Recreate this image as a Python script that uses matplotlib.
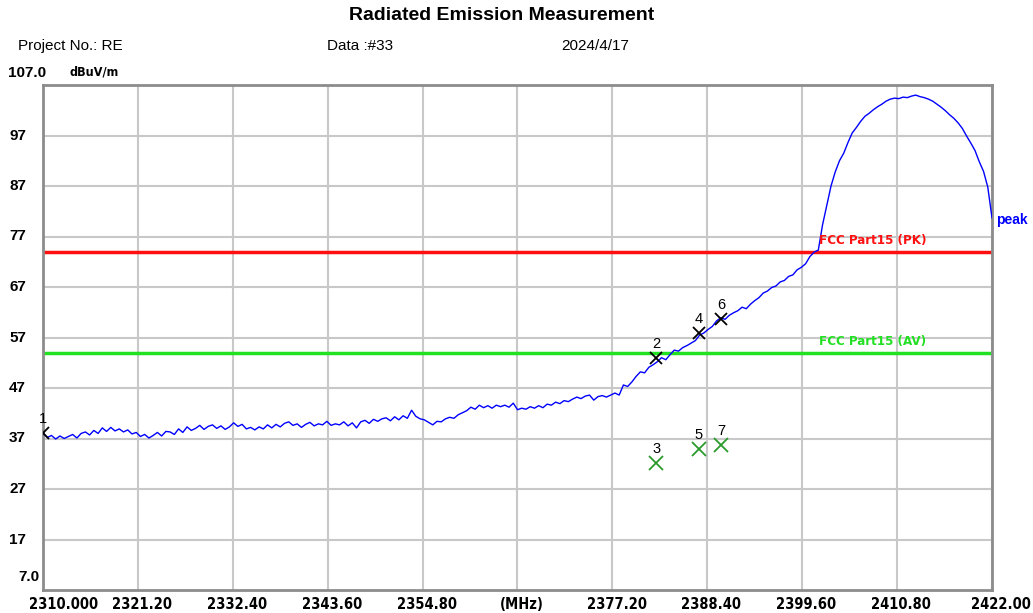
import matplotlib.pyplot as plt
import numpy as np

# trace (0.5 MHz steps)
freq_start, freq_stop, freq_step = 2310.0, 2422.0, 0.5
level = [
    38.1, 37.2, 37.6, 36.9, 37.5, 37.0, 37.4, 37.8, 37.1, 38.0,
    38.3, 37.7, 38.6, 38.0, 39.1, 38.4, 39.2, 38.5, 38.9, 38.3,
    38.7, 37.9, 38.2, 37.4, 37.8, 37.1, 37.6, 38.2, 37.5, 38.4,
    38.3, 37.8, 38.9, 38.2, 39.3, 38.6, 39.0, 39.6, 38.8, 39.4,
    39.7, 39.0, 39.5, 38.8, 39.3, 40.1, 39.4, 39.8, 38.9, 39.2,
    38.7, 39.3, 38.9, 39.7, 39.1, 39.8, 39.3, 40.0, 40.3, 39.6,
    39.9, 39.2, 39.8, 40.2, 39.5, 39.9, 39.7, 40.4, 39.6, 39.9,
    39.7, 40.3, 39.5, 40.1, 39.1, 40.3, 40.6, 40.0, 40.8, 40.4,
    40.9, 41.1, 40.5, 41.3, 40.7, 41.5, 41.0, 42.6, 41.4, 40.9,
    40.7, 40.2, 39.7, 40.4, 40.3, 40.9, 41.2, 41.0, 41.7, 42.1,
    42.5, 43.2, 42.8, 43.6, 43.1, 43.5, 43.0, 43.6, 43.3, 43.6,
    43.2, 44.0, 42.7, 43.0, 42.8, 43.3, 43.0, 43.5, 43.1, 43.8,
    43.6, 44.2, 43.9, 44.5, 44.3, 44.8, 45.2, 44.9, 45.4, 45.6,
    44.6, 45.3, 45.5, 45.2, 45.6, 46.0, 45.6, 47.6, 47.3, 48.2,
    49.3, 50.2, 50.0, 51.1, 51.6, 52.2, 53.0, 52.6, 53.6, 54.5,
    54.3, 55.0, 55.4, 55.9, 56.4, 57.5, 57.9, 58.6, 59.2, 60.3,
    60.9, 60.6, 61.4, 61.9, 62.3, 63.0, 62.7, 63.6, 64.3, 64.9,
    65.8, 66.2, 66.9, 67.2, 68.0, 68.3, 69.1, 69.4, 70.4, 70.9,
    71.6, 73.0, 73.9, 74.3, 79.3, 83.2, 87.0, 89.8, 92.0, 93.5,
    95.6, 97.5, 98.6, 99.8, 100.8, 101.4, 102.1, 102.7, 103.2, 103.8,
    104.2, 104.4, 104.3, 104.6, 104.5, 104.8, 105.0, 104.7, 104.5, 104.2,
    103.8, 103.2, 102.6, 101.9, 101.1, 100.4, 99.5, 98.4, 96.9, 95.5,
    94.0, 91.8, 89.9, 86.8, 80.7,
]

limit_pk = 74.0
limit_av = 54.0

marker_no = [1, 2, 3, 4, 5, 6, 7]
marker_freq = [2310.0, 2382.4, 2382.4, 2387.4, 2387.4, 2390.0, 2390.0]
marker_level = [38.1, 52.9, 32.1, 57.9, 34.9, 60.7, 35.7]
marker_kind = ['pk', 'pk', 'av', 'pk', 'av', 'pk', 'av']

x_ticks = [2310.0, 2321.2, 2332.4, 2343.6, 2354.8, 2366.0, 2377.2, 2388.4, 2399.6, 2410.8, 2422.0]
x_labels = ['2310.000', '2321.20', '2332.40', '2343.60', '2354.80', '(MHz)',
            '2377.20', '2388.40', '2399.60', '2410.80', '2422.00']
y_ticks = [17, 27, 37, 47, 57, 67, 77, 87, 97]

freq = np.arange(len(level)) * freq_step + freq_start

W, H = 1033, 613
fig = plt.figure(figsize=(W / 100, H / 100), dpi=100)
ax = fig.add_axes([43 / W, 1 - 590 / H, (992 - 43) / W, (590 - 85) / H])

ax.set_xlim(freq_start, freq_stop)
ax.set_ylim(7, 107)
ax.set_xticks(x_ticks)
ax.set_yticks(y_ticks)
ax.grid(True, color='#c8c8c8', linewidth=1.5)
ax.set_axisbelow(True)
ax.tick_params(length=0, labelleft=False, labelbottom=False)
for s in ax.spines.values():
    s.set_color('#8c8c8c')
    s.set_linewidth(2)

ax.axhline(limit_pk, color='#ff1010', linewidth=2.5, zorder=2)
ax.axhline(limit_av, color='#22e022', linewidth=2.5, zorder=2)
ax.plot(freq, level, color='#0000ff', linewidth=1.0, zorder=3)

for n, f, l, k in zip(marker_no, marker_freq, marker_level, marker_kind):
    c = 'black' if k == 'pk' else '#2a9a2a'
    ms = 8 if k == 'pk' else 10
    ax.plot(f, l, marker='x', color=c, markersize=ms, markeredgewidth=1.3, zorder=4)
    ax.annotate(str(n), (f, l), xytext=(0, 5), textcoords='offset points',
                ha='center', va='bottom', fontsize=10.5, color='black',
                family='Liberation Sans')

cond = dict(family='DejaVu Sans', fontstretch='condensed', fontweight='bold')
ax.text(2401.6, limit_pk + 0.9, 'FCC Part15 (PK)', color='#ff1010', fontsize=9.5,
        va='bottom', **cond)
ax.text(2401.6, limit_av + 0.9, 'FCC Part15 (AV)', color='#22e022', fontsize=9.5,
        va='bottom', **cond)
fig.text(996 / W, 1 - 220 / H, 'peak', color='#0000ff', fontsize=10,
         fontweight='bold', va='center', ha='left', family='Liberation Sans')

# x labels
for i, (t, lab) in enumerate(zip(x_ticks, x_labels)):
    ha = 'center'
    dx = 3
    if i == 0:
        ha, dx = 'left', -10
    if i == len(x_ticks) - 1:
        ha, dx = 'right', 28
    ax.annotate(lab, (t, 7), xytext=(dx, -5), textcoords='offset points',
                ha=ha, va='top', fontsize=10.5, annotation_clip=False, **cond)

# y labels
for t in y_ticks:
    ax.text(9 / W, 1 - (85 + (107 - t) * 5.05) / H, str(t), transform=fig.transFigure,
            ha='left', va='center', fontsize=11, fontweight='bold', family='Liberation Sans')
fig.text(8 / W, 1 - 73 / H, '107.0', ha='left', va='center', fontsize=11,
         fontweight='bold', family='Liberation Sans')
fig.text(18 / W, 1 - 577 / H, '7.0', ha='left', va='center', fontsize=11,
         fontweight='bold', family='Liberation Sans')
fig.text(70 / W, 1 - 72 / H, 'dBuV/m', ha='left', va='center', fontsize=9, **cond)

fig.text(502 / W, 1 - 16 / H, 'Radiated Emission Measurement', ha='center', va='center',
         fontsize=14, fontweight='bold', family='Liberation Sans')
fig.text(18 / W, 1 - 46 / H, 'Project No.: RE', ha='left', va='center', fontsize=11,
         family='Liberation Sans')
fig.text(327 / W, 1 - 46 / H, 'Data :#33', ha='left', va='center', fontsize=11,
         family='Liberation Sans')
fig.text(561 / W, 1 - 46 / H, '2024/4/17', ha='left', va='center', fontsize=11,
         family='Liberation Sans')

fig.savefig('out.png', dpi=100)
